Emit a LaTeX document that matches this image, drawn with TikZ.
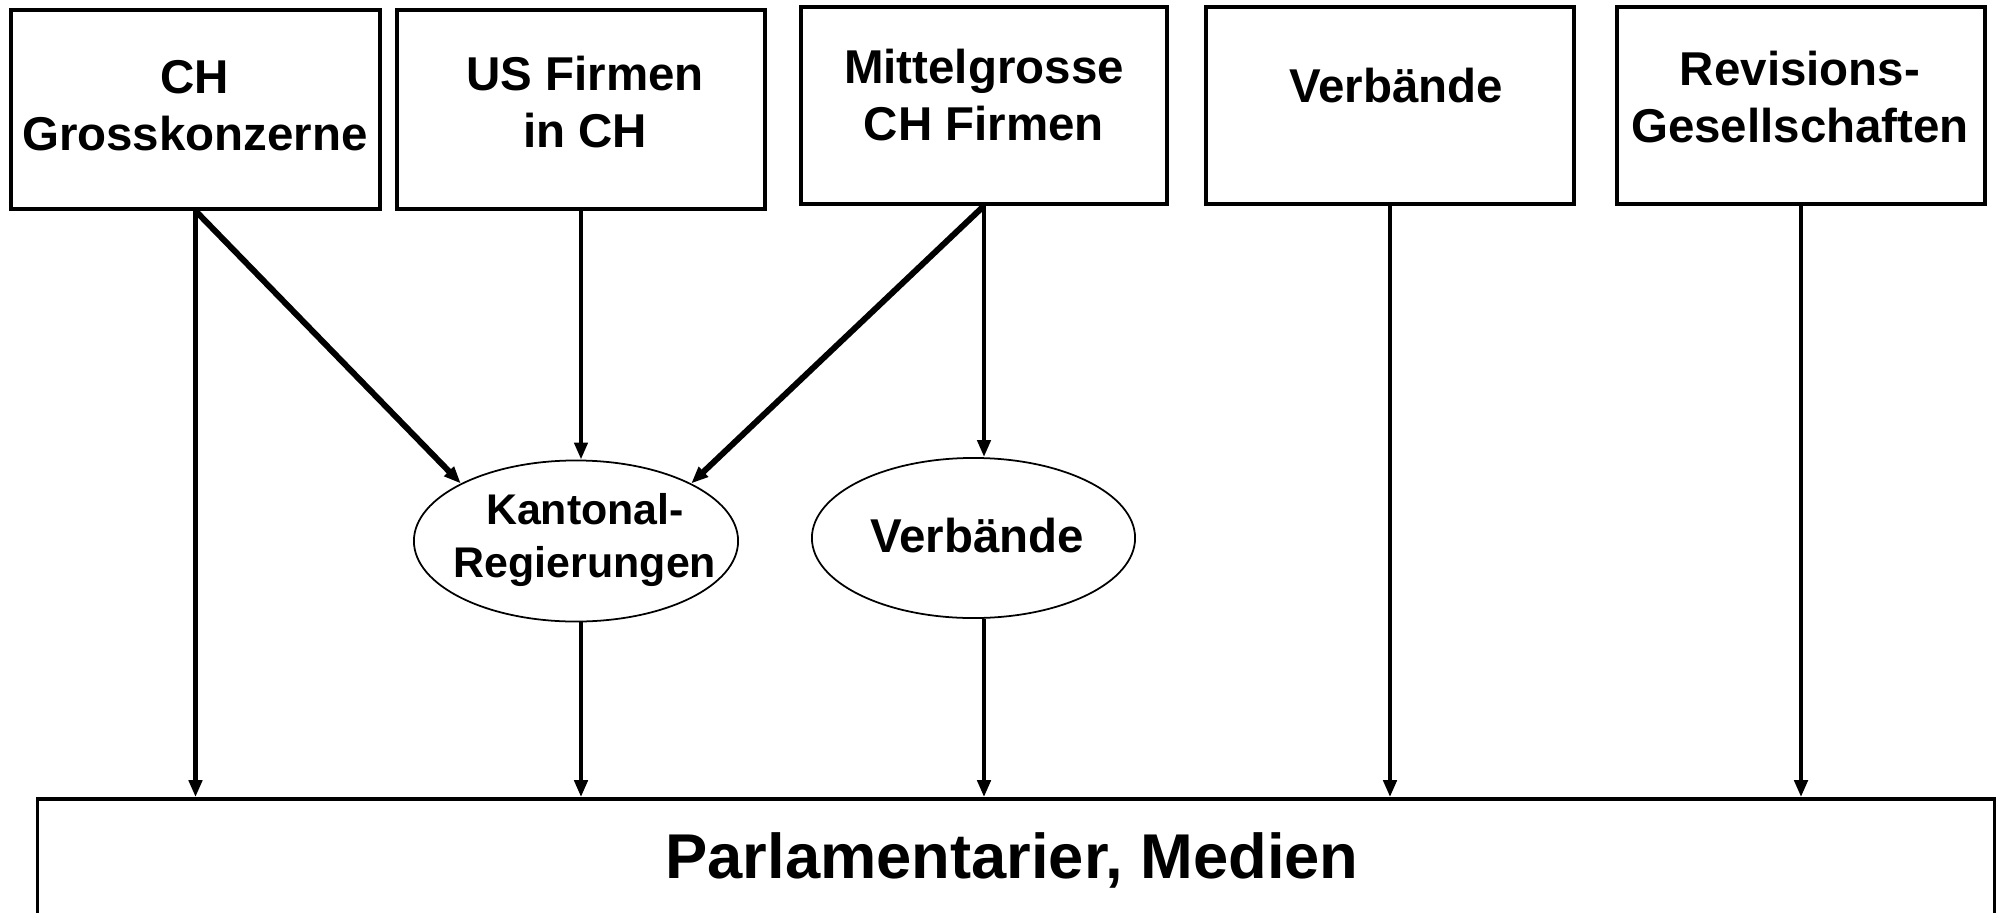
\documentclass[tikz,border=0pt]{standalone}
\usepackage{fontspec}
\setmainfont{Liberation Sans}
\usetikzlibrary{arrows.meta,shapes.geometric}
\begin{document}
\begin{tikzpicture}[x=0.01cm,y=-0.01cm,
  box/.style={draw,line width=1pt,rectangle,inner sep=0pt},
  oval/.style={draw,line width=0.5pt,ellipse,inner sep=0pt},
  lab/.style={font=\bfseries\fontsize{13.5pt}{16.2pt}\selectfont,align=center,anchor=base,inner sep=0pt},
  arr/.style={line width=1.4pt,-{Triangle[length=0.17cm,width=0.13cm]}}]
\useasboundingbox (0,0) rectangle (1997,912);
\clip (0,0) rectangle (1997,912);
% top boxes
\node[box,minimum width=3.69cm,minimum height=1.99cm] (b1) at (195.5,109.5) {};
\node[box,minimum width=3.68cm,minimum height=1.99cm] (b2) at (581,109.5) {};
\node[box,minimum width=3.66cm,minimum height=1.97cm] (b3) at (984,105.5) {};
\node[box,minimum width=3.68cm,minimum height=1.97cm] (b4) at (1390,105.5) {};
\node[box,minimum width=3.68cm,minimum height=1.97cm] (b5) at (1801,105.5) {};
% ellipses
\node[oval,minimum width=3.24cm,minimum height=1.61cm] (K) at (576,541) {};
\node[oval,minimum width=3.23cm,minimum height=1.60cm] (V) at (973.5,538) {};
% bottom box
\node[box,minimum width=19.56cm,minimum height=2cm] (P) at (1016,899) {};
% texts (base anchor = baseline of last line)
\node[lab] (t1) at (195,150) {CH\\Grosskonzerne};
\node[lab] (t2) at (585,147) {US Firmen\\in CH};
\node[lab] (t3) at (984,140) {Mittelgrosse\\CH Firmen};
\node[lab] (t4) at (1396,102) {Verbände};
\node[lab] (t5) at (1800,142) {Revisions-\\Gesellschaften};
\node[lab,font=\bfseries\fontsize{12.2pt}{14.8pt}\selectfont] (t6) at (585,577) {Kantonal-\\Regierungen};
\node[lab] (t7) at (977,552) {Verbände};
\node[lab,font=\bfseries\fontsize{18pt}{21.6pt}\selectfont] (t8) at (1012,878) {Parlamentarier, Medien};
% connectors
\draw[arr] (b1.south) -- (b1.south |- P.north);
\draw[arr,line width=1.7pt] (b1.south) -- (K.north west);
\draw[arr] (b2.south) -- (b2.south |- K.north);
\draw[arr,line width=1.7pt] (b3.south) -- (K.north east);
\draw[arr] (b3.south) -- (b3.south |- V.north);
\draw[arr] (b2.south |- K.south) -- (b2.south |- P.north);
\draw[arr] (b3.south |- V.south) -- (b3.south |- P.north);
\draw[arr] (b4.south) -- (b4.south |- P.north);
\draw[arr] (b5.south) -- (b5.south |- P.north);
\end{tikzpicture}
\end{document}
